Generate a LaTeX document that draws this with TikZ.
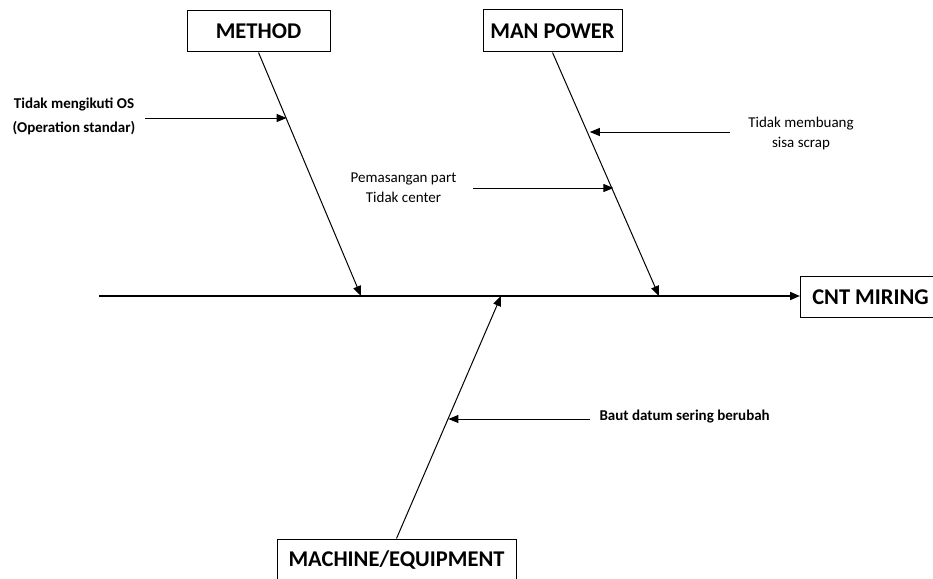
\documentclass[tikz,border=0pt]{standalone}
\usepackage{fontspec}
\setmainfont{Carlito}
\usetikzlibrary{arrows.meta}
\begin{document}
\begin{tikzpicture}[x=1pt,y=-1pt,
  box/.style={draw,line width=1pt,font=\bfseries\fontsize{22.5}{26}\selectfont,inner sep=0pt},
  lbl/.style={font=\fontsize{15}{20}\selectfont,align=center},
  lblb/.style={font=\bfseries\fontsize{15}{24}\selectfont,align=center},
  tip/.style={-{Triangle[length=10pt,width=8pt]}},
  bone/.style={line width=1pt,tip},
  spine/.style={line width=1.8pt,tip},
  side/.style={line width=1pt,tip}]
\useasboundingbox (0,0) rectangle (933,578);
% boxes
\node[box,minimum width=143pt,minimum height=41pt] (method) at (258.5,31.5) {METHOD};
\node[box,minimum width=139pt,minimum height=42pt] (man) at (552.5,31) {MAN POWER};
\node[box,minimum width=140pt,minimum height=41pt,anchor=west] (cnt) at (800,297) {CNT MIRING};
\node[box,minimum width=239pt,minimum height=42pt] (mach) at (396.5,560) {MACHINE/EQUIPMENT};
% spine
\coordinate (s0) at (99,296);
\draw[spine] (s0) -- (cnt.west |- s0);
% bones
\coordinate (mtip) at (361,296);
\coordinate (ptip) at (659,296);
\coordinate (qtip) at (501,296);
\draw[bone] (method.south) -- (mtip);
\draw[bone] (man.south) -- (ptip);
\draw[bone] (mach.north) -- (qtip);
% side labels
\node[lblb] (l1) at (74,116) {Tidak mengikuti OS\\(Operation standar)};
\coordinate (a1) at (145,118);
\coordinate (b1) at (286.6,118);
\draw[side] (a1) -- (b1);
\node[lbl] (l2) at (403.5,188) {Pemasangan part\\Tidak center};
\coordinate (a2) at (473,188);
\coordinate (b2) at (613.4,188);
\draw[side] (a2) -- (b2);
\node[lbl] (l3) at (801,133) {Tidak membuang\\sisa scrap};
\coordinate (a3) at (730,132);
\coordinate (b3) at (589.8,132);
\draw[side] (a3) -- (b3);
\node[lblb,anchor=west] (l4) at (596,417) {Baut datum sering berubah};
\coordinate (a4) at (590,419);
\coordinate (b4) at (448.4,419);
\draw[side] (a4) -- (b4);
\end{tikzpicture}
\end{document}
